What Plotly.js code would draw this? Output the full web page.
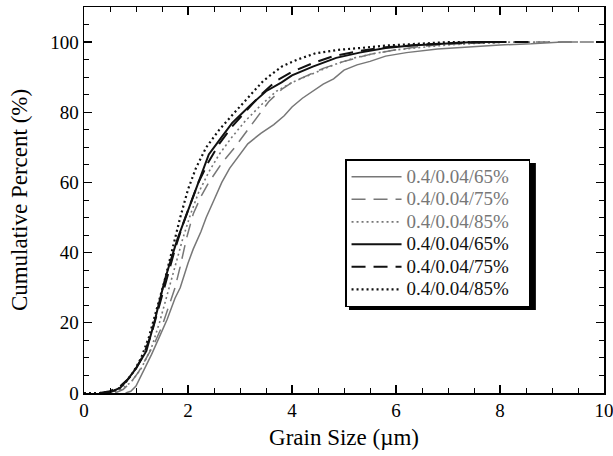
<!DOCTYPE html>
<html><head><meta charset="utf-8">
<script src="https://cdn.plot.ly/plotly-3.0.1.min.js"></script>
<style>body{margin:0;padding:0;background:#fff}#chart{width:613px;height:456px}</style>
</head><body><div id="chart"></div>
<script>
// Grain size (µm) and cumulative percent (%) for each series
const names = ['0.4/0.04/65%','0.4/0.04/75%','0.4/0.04/85%','0.4/0.04/65%','0.4/0.04/75%','0.4/0.04/85%'];

const gray65_x = [0.8,0.9,1.0,1.1,1.2,1.3,1.45,1.6,1.75,1.85,2.0,2.1,2.25,2.35,2.5,2.65,2.8,3.0,3.15,3.4,3.65,3.85,4.0,4.2,4.4,4.6,4.8,5.0,5.25,5.5,5.8,6.2,6.8,7.3,8.0,8.6,9.2,9.5];
const gray65_y = [0,0.5,2,5,8,11,16,21,27,30,37,41,46,50,55,60,64,68,71,74,76.5,79,81.5,84,86,88,89.5,92,93.5,94.5,96,97,98,98.5,99.2,99.5,100,100];

const gray75_x = [0.6,0.75,0.9,1.05,1.2,1.35,1.5,1.65,1.75,1.85,1.97,2.1,2.25,2.4,2.65,2.9,3.1,3.3,3.55,3.8,4.0,4.3,4.6,5.0,5.5,6.0,6.5,7.0,7.5,8.0,9.9];
const gray75_y = [0,1,3,6,10,14,19,26,30,36,44,51,56,60,65.5,70,74,78,83,86.5,88.5,90.5,92.5,94.5,96.5,97.8,98.8,99.4,99.8,100,100];

const gray85_x = [0.5,0.7,0.9,1.1,1.3,1.45,1.6,1.75,1.9,2.05,2.2,2.4,2.6,2.85,3.1,3.4,3.7,4.0,4.4,4.8,5.2,5.6,6.0,6.5,7.0,7.5,8.0,9.0];
const gray85_y = [0,1,3,7,13,20,28,36,44,51,57,63,68,73,77.5,82,86,88.5,91,93.5,95.5,96.8,97.8,98.6,99.2,99.6,100,100];

const black65_x = [0.4,0.55,0.7,0.85,1.0,1.2,1.35,1.45,1.55,1.65,1.8,1.95,2.1,2.25,2.4,2.6,2.85,3.2,3.5,3.8,4.0,4.4,4.85,5.3,5.8,6.3,7.0,7.5,8.0];
const black65_y = [0,0.5,1.5,4,7,12,20,26,32,37,44,50,56,62,68,72,77,82,86,88.5,90.5,93,95.5,97,98.3,99,99.6,100,100];

const black75_x = [0.3,0.5,0.7,0.85,1.0,1.15,1.3,1.45,1.6,1.75,1.9,2.05,2.2,2.4,2.6,2.85,3.1,3.4,3.7,4.0,4.4,4.8,5.3,5.8,6.5,7.2,8.0,8.6];
const black75_y = [0,0.5,2,4,7,11,17,25,33,41,48,54,60,66,71,76,80,85,89,91.5,94,96,97.5,98.5,99.3,99.8,100,100];

const black85_x = [0,0.3,0.5,0.65,0.8,0.95,1.1,1.25,1.4,1.55,1.7,1.85,2.0,2.15,2.35,2.6,2.9,3.15,3.45,3.8,4.1,4.45,4.9,5.3,5.8,6.4,7.0,8.0];
const black85_y = [0,0,0.3,1,3,6,10,16,24,32,41,50,58,64,70,75,80,84,89,93,95,96.8,97.8,98.3,99,99.5,100,100];

const xTickVals = [0,2,4,6,8,10];
const yTickVals = [0,20,40,60,80,100];

const GRAY = '#777777', BLACK = '#111111';
const FONT = 'Liberation Serif, Times New Roman, serif';
const series = [
  {x: gray65_x, y: gray65_y, color: GRAY, dash: 'solid', w: 1.5},
  {x: gray75_x, y: gray75_y, color: GRAY, dash: '14px,8px', w: 1.5},
  {x: gray85_x, y: gray85_y, color: GRAY, dash: '2px,3px', w: 1.6},
  {x: black65_x, y: black65_y, color: BLACK, dash: 'solid', w: 2},
  {x: black75_x, y: black75_y, color: BLACK, dash: '14px,8px', w: 2},
  {x: black85_x, y: black85_y, color: BLACK, dash: '2px,3px', w: 2.2}
];
const PAD = '\u00A0\u00A0\u00A0';
const traces = series.map((s, i) => ({
  type: 'scatter', mode: 'lines', x: s.x, y: s.y,
  name: '<span style="font-size:19px;fill:' + (i < 3 ? GRAY : BLACK) + '">' + names[i] + PAD + '</span>',
  line: {color: s.color, dash: s.dash, width: s.w}
}));

const axisCommon = {
  showgrid: false, zeroline: false, showline: true, linecolor: '#000', linewidth: 1.5,
  mirror: 'ticks', ticks: 'inside', ticklen: 8, tickwidth: 1.2, tickcolor: '#000',
  ticklabeloverflow: 'allow',
  tickfont: {family: FONT, size: 19, color: '#000'}
};
const layout = {
  width: 613, height: 456,
  margin: {l: 84, r: 9, t: 7, b: 63},
  paper_bgcolor: '#fff', plot_bgcolor: '#fff',
  font: {family: FONT, color: '#000'},
  showlegend: true,
  legend: {
    x: 0.502, y: 0.606, xanchor: 'left', yanchor: 'top',
    bgcolor: '#fff', bordercolor: '#000', borderwidth: 1.5,
    font: {family: FONT, size: 15},
    itemwidth: 50, tracegroupgap: 0
  },
  xaxis: Object.assign({}, axisCommon, {
    range: [0, 10], tickvals: xTickVals, ticktext: xTickVals.map(String),
    minor: {dtick: 0.5, ticks: 'inside', ticklen: 5, tickcolor: '#000', tickwidth: 1},
    title: {text: 'Grain Size (µm)', font: {size: 23}, standoff: 8}
  }),
  yaxis: Object.assign({}, axisCommon, {
    range: [0, 110], tickvals: yTickVals, ticktext: yTickVals.map(String),
    minor: {dtick: 5, ticks: 'inside', ticklen: 5, tickcolor: '#000', tickwidth: 1},
    title: {text: 'Cumulative Percent (%)', font: {size: 23}, standoff: 16}
  }),
  shapes: [
    {type: 'rect', xref: 'paper', yref: 'paper', x0: 0.5096, x1: 0.869, y0: 0.215, y1: 0.5959,
     fillcolor: '#000', line: {width: 0}, layer: 'above'}
  ]
};
Plotly.newPlot('chart', traces, layout, {displayModeBar: false, staticPlot: true});
</script></body></html>
